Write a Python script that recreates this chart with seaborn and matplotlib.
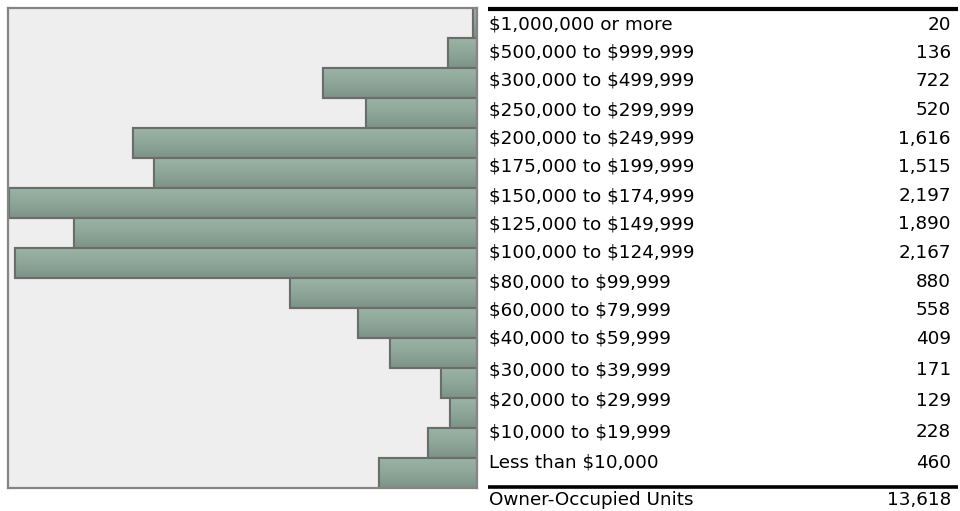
import numpy as np
import pandas as pd
import matplotlib
matplotlib.use("Agg")
import matplotlib.pyplot as plt
import seaborn as sns

# Home value brackets, top to bottom
categories = [
    "$1,000,000 or more",
    "$500,000 to $999,999",
    "$300,000 to $499,999",
    "$250,000 to $299,999",
    "$200,000 to $249,999",
    "$175,000 to $199,999",
    "$150,000 to $174,999",
    "$125,000 to $149,999",
    "$100,000 to $124,999",
    "$80,000 to $99,999",
    "$60,000 to $79,999",
    "$40,000 to $59,999",
    "$30,000 to $39,999",
    "$20,000 to $29,999",
    "$10,000 to $19,999",
    "Less than $10,000",
]
units = [20, 136, 722, 520, 1616, 1515, 2197, 1890, 2167, 880, 558, 409, 171, 129, 228, 460]
total_label = "Owner-Occupied Units"
total_value = 13618

df = pd.DataFrame({"bracket": categories, "units": units})

sns.set_theme(style="white")
plt.rcParams["font.family"] = ["DejaVu Sans"]
plt.rcParams["text.parse_math"] = False

W, H = 960, 511
fig = plt.figure(figsize=(W / 100, H / 100), dpi=100)

# Mirrored bar chart on the left
ax = fig.add_axes([8 / W, (H - 488) / H, (477 - 8) / W, (488 - 8) / H])
sns.barplot(data=df, x="units", y="bracket", orient="h", order=categories,
            color="#8fa89a", width=1.0, edgecolor="#6c6c6c", linewidth=1.5,
            ax=ax)
ax.set_facecolor("#eeeeee")
ax.set_xlabel("")
ax.set_ylabel("")
ax.set_xticks([])
ax.set_yticks([])
for s in ax.spines.values():
    s.set_visible(True)
    s.set_color("#858585")
    s.set_linewidth(1.6)

# vertical shading on each bar: lighter top, darker bottom
grad = np.linspace(0, 1, 64).reshape(-1, 1)
cmap = matplotlib.colors.LinearSegmentedColormap.from_list(
    "bar", ["#9ab3a5", "#8ea699", "#7c9287"])
for p in list(ax.patches):
    x0, y0 = p.get_x(), p.get_y()
    w, h = p.get_width(), p.get_height()
    im = ax.imshow(grad, cmap=cmap, aspect="auto", interpolation="bilinear",
                   extent=[x0, x0 + w, y0 + h, y0], zorder=p.get_zorder() + 0.1)
    im.set_clip_path(p)
    edge = matplotlib.patches.Rectangle((x0, y0), w, h, fill=False,
                                        edgecolor="#6c6c6c", linewidth=1.5,
                                        zorder=p.get_zorder() + 0.2)
    ax.add_patch(edge)
ax.set_xlim(2202, 0)
ax.set_ylim(len(categories) - 0.5, -0.5)

# Table on the right, in pixel coordinates
tx = fig.add_axes([488 / W, 0, (958 - 488) / W, 1])
tx.set_xlim(0, 470)
tx.set_ylim(H, 0)
tx.axis("off")
row_y = [25, 53, 81, 110, 139, 167, 196, 224, 253, 282, 310, 339, 370, 401, 432, 463]
fs = 13.2
for yy, lab, val in zip(row_y, categories, units):
    tx.text(1, yy, lab, fontsize=fs, va="center", ha="left", color="black")
    tx.text(463, yy, f"{val:,}", fontsize=fs, va="center", ha="right", color="black")
tx.plot([0, 470], [9, 9], color="black", lw=3.0, solid_capstyle="butt")
tx.plot([0, 470], [487, 487], color="black", lw=2.6, solid_capstyle="butt")
tx.text(1, 500, total_label, fontsize=fs, va="center", ha="left", color="black")
tx.text(463, 500, f"{total_value:,}", fontsize=fs, va="center", ha="right", color="black")

fig.savefig("out.png", dpi=100, facecolor="white")
